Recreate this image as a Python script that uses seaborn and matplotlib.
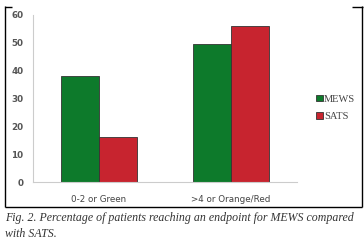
import matplotlib
matplotlib.use("Agg")
import matplotlib.pyplot as plt
from matplotlib.lines import Line2D
import seaborn as sns
import pandas as pd

categories = ["0-2 or Green", ">4 or Orange/Red"]
series = ["MEWS", "SATS"]
mews = [38, 49.5]
sats = [16, 56]
yticks = [0, 10, 20, 30, 40, 50, 60]
caption = ("Fig. 2. Percentage of patients reaching an endpoint for MEWS compared\n"
           "with SATS.")

df = pd.DataFrame({
    "cat": categories * 2,
    "score": [series[0]] * 2 + [series[1]] * 2,
    "val": mews + sats,
})

sns.set_style("white")
fig = plt.figure(figsize=(3.64, 2.44), dpi=100)
ax = fig.add_axes([33/364, 62/244, (297-33)/364, (182-15)/244])

palette = {"MEWS": "#0d7a2b", "SATS": "#c7242f"}
sns.barplot(data=df, x="cat", y="val", hue="score", palette=palette,
            width=0.57, edgecolor="#333333", linewidth=0.6, ax=ax,
            saturation=1, legend=True)

ax.set_xlim(-0.5, 1.5)
ax.set_ylim(0, 60)
ax.set_yticks(yticks)
ax.set_yticklabels([str(t) for t in yticks], fontsize=6.3, color="#555555",
                   fontweight="semibold")
ax.set_xticks([0, 1])
ax.set_xticklabels(categories, fontsize=6.3, color="#444444")
ax.tick_params(axis="x", length=0, pad=9)
ax.set_xticks([0.5, 1.5], minor=True)
ax.tick_params(axis="x", which="minor", length=3, color="#cccccc", direction="out")
ax.tick_params(axis="y", length=3, color="#cccccc", direction="out", pad=4)
ax.set_xlabel("")
ax.set_ylabel("")
for s in ["top", "right"]:
    ax.spines[s].set_visible(False)
ax.spines["left"].set_color("#cccccc")
ax.spines["bottom"].set_color("#cccccc")
ax.spines["left"].set_linewidth(0.8)
ax.spines["bottom"].set_linewidth(0.8)

handles, labels = ax.get_legend_handles_labels()
ax.legend_.remove()
fig.legend(handles, labels, loc="center left",
           bbox_to_anchor=(307/364, 1 - 108/244), frameon=False,
           prop={"family": "Liberation Serif", "size": 7.5},
           handlelength=0.6, handleheight=0.6, handletextpad=0.15,
           labelspacing=0.8, labelcolor="#444444")

# frame around chart
lw = 1.0
def fl(xs, ys):
    fig.add_artist(Line2D([x/364 for x in xs], [1 - y/244 for y in ys],
                          color="black", linewidth=lw, solid_capstyle="butt"))
fl([5, 5], [6, 207])
fl([5, 362], [207, 207])
fl([362, 362], [6, 207])
fl([4.5, 12], [6.5, 6.5])
fl([352, 362.5], [6.5, 6.5])

fig.text(5/364, 1 - 212/244, caption, ha="left", va="top",
         family="Liberation Serif", style="italic", fontsize=8.6,
         color="#333333", linespacing=1.45)

fig.savefig("out.png", dpi=100)
